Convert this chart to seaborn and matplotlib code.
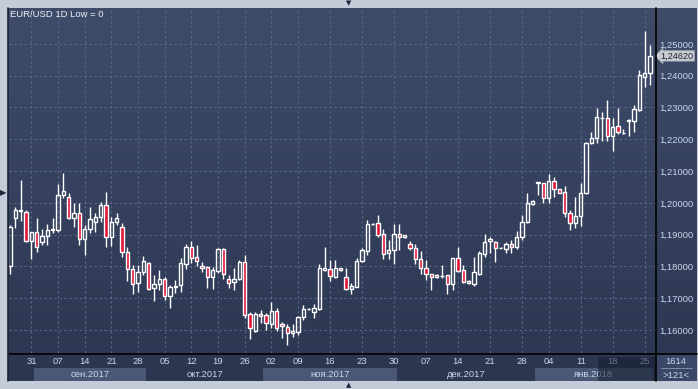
import numpy as np
import matplotlib
matplotlib.use("Agg")
import matplotlib.pyplot as plt
from matplotlib.patches import Rectangle
from matplotlib.lines import Line2D
import seaborn as sns

# daily EUR/USD candles, 25 Aug 2017 .. 26 Jan 2018 (121 bars)
opens = [1.1800, 1.1951, 1.1973, 1.1972, 1.1881, 1.1909, 1.1878, 1.1896, 1.1913, 1.1915,
         1.2025, 1.2017, 1.1951, 1.1967, 1.1885, 1.1917, 1.1941, 1.1954, 1.1993, 1.1892,
         1.1941, 1.1925, 1.1846, 1.1792, 1.1747, 1.1784, 1.1810, 1.1731, 1.1744, 1.1759,
         1.1708, 1.1735, 1.1740, 1.1809, 1.1860, 1.1829, 1.1802, 1.1797, 1.1766, 1.1787,
         1.1855, 1.1759, 1.1752, 1.1759, 1.1813, 1.1649, 1.1597, 1.1650, 1.1647, 1.1618,
         1.1660, 1.1618, 1.1608, 1.1590, 1.1595, 1.1640, 1.1665, 1.1656, 1.1666, 1.1790,
         1.1791, 1.1768, 1.1794, 1.1766, 1.1728, 1.1736, 1.1818, 1.1849, 1.1932, 1.1935,
         1.1902, 1.1841, 1.1852, 1.1901, 1.1892, 1.1870, 1.1857, 1.1822, 1.1794, 1.1775,
         1.1766, 1.1771, 1.1773, 1.1745, 1.1825, 1.1789, 1.1747, 1.1745, 1.1776, 1.1839,
         1.1880, 1.1878, 1.1858, 1.1854, 1.1870, 1.1862, 1.1893, 1.1941, 1.1996, 1.2061,
         1.2061, 1.2014, 1.2070, 1.2042, 1.2033, 1.1969, 1.1936, 1.1957, 1.2030, 1.2187,
         1.2203, 1.2266, 1.2266, 1.2211, 1.2241, 1.2221, 1.2256, 1.2258, 1.2292, 1.2397,
         1.2407]
highs = [1.1930, 1.1988, 1.2072, 1.1977, 1.1909, 1.1951, 1.1917, 1.1932, 1.1951, 1.2059,
         1.2093, 1.2030, 1.1998, 1.1998, 1.1930, 1.1986, 1.1967, 1.2004, 1.2035, 1.1956,
         1.1969, 1.1937, 1.1862, 1.1804, 1.1804, 1.1833, 1.1813, 1.1773, 1.1789, 1.1766,
         1.1742, 1.1757, 1.1827, 1.1870, 1.1880, 1.1867, 1.1815, 1.1802, 1.1799, 1.1859,
         1.1859, 1.1773, 1.1794, 1.1820, 1.1836, 1.1658, 1.1658, 1.1663, 1.1652, 1.1689,
         1.1668, 1.1626, 1.1618, 1.1618, 1.1645, 1.1679, 1.1669, 1.1681, 1.1807, 1.1862,
         1.1820, 1.1820, 1.1796, 1.1796, 1.1747, 1.1825, 1.1857, 1.1946, 1.1936, 1.1961,
         1.1917, 1.1883, 1.1933, 1.1933, 1.1900, 1.1881, 1.1870, 1.1849, 1.1820, 1.1775,
         1.1775, 1.1804, 1.1773, 1.1825, 1.1862, 1.1805, 1.1757, 1.1831, 1.1849, 1.1902,
         1.1893, 1.1881, 1.1860, 1.1878, 1.1883, 1.1912, 1.1962, 1.2030, 1.2010, 1.2067,
         1.2063, 1.2091, 1.2082, 1.2042, 1.2053, 1.1977, 1.2018, 1.2061, 1.2192, 1.2222,
         1.2299, 1.2285, 1.2324, 1.2266, 1.2299, 1.2233, 1.2264, 1.2308, 1.2417, 1.2540,
         1.2496]
lows = [1.1775, 1.1920, 1.1944, 1.1878, 1.1822, 1.1846, 1.1867, 1.1867, 1.1904, 1.1909,
        1.2014, 1.1948, 1.1925, 1.1867, 1.1836, 1.1904, 1.1909, 1.1941, 1.1860, 1.1864,
        1.1930, 1.1831, 1.1754, 1.1713, 1.1721, 1.1773, 1.1726, 1.1691, 1.1726, 1.1694,
        1.1668, 1.1715, 1.1721, 1.1792, 1.1810, 1.1802, 1.1783, 1.1733, 1.1728, 1.1778,
        1.1760, 1.1731, 1.1726, 1.1757, 1.1639, 1.1572, 1.1595, 1.1621, 1.1600, 1.1607,
        1.1597, 1.1576, 1.1553, 1.1579, 1.1584, 1.1631, 1.1663, 1.1637, 1.1663, 1.1786,
        1.1754, 1.1765, 1.1785, 1.1726, 1.1713, 1.1734, 1.1815, 1.1836, 1.1931, 1.1894,
        1.1822, 1.1822, 1.1807, 1.1852, 1.1890, 1.1852, 1.1808, 1.1776, 1.1757, 1.1726,
        1.1765, 1.1763, 1.1713, 1.1726, 1.1781, 1.1747, 1.1744, 1.1738, 1.1773, 1.1831,
        1.1843, 1.1815, 1.1857, 1.1841, 1.1843, 1.1854, 1.1883, 1.1938, 1.1994, 1.2025,
        1.2000, 1.2000, 1.2017, 1.2030, 1.1954, 1.1913, 1.1920, 1.1927, 1.2027, 1.2184,
        1.2187, 1.2193, 1.2194, 1.2163, 1.2215, 1.2215, 1.2210, 1.2224, 1.2289, 1.2365,
        1.2370]
closes = [1.1924, 1.1977, 1.1977, 1.1881, 1.1909, 1.1860, 1.1896, 1.1915, 1.1917, 1.2025,
          1.2037, 1.1951, 1.1967, 1.1885, 1.1917, 1.1948, 1.1954, 1.1993, 1.1892, 1.1941,
          1.1951, 1.1846, 1.1791, 1.1744, 1.1784, 1.1817, 1.1729, 1.1744, 1.1759, 1.1708,
          1.1734, 1.1739, 1.1810, 1.1860, 1.1827, 1.1818, 1.1794, 1.1766, 1.1789, 1.1855,
          1.1776, 1.1747, 1.1759, 1.1815, 1.1647, 1.1607, 1.1649, 1.1644, 1.1621, 1.1660,
          1.1605, 1.1614, 1.1592, 1.1597, 1.1640, 1.1665, 1.1667, 1.1668, 1.1794, 1.1794,
          1.1770, 1.1794, 1.1790, 1.1729, 1.1738, 1.1818, 1.1852, 1.1933, 1.1934, 1.1900,
          1.1838, 1.1852, 1.1901, 1.1892, 1.1899, 1.1857, 1.1822, 1.1794, 1.1776, 1.1766,
          1.1773, 1.1769, 1.1745, 1.1825, 1.1787, 1.1750, 1.1754, 1.1781, 1.1841, 1.1878,
          1.1886, 1.1857, 1.1859, 1.1870, 1.1862, 1.1893, 1.1941, 1.1998, 1.2007, 1.2064,
          1.2014, 1.2070, 1.2042, 1.2030, 1.1967, 1.1936, 1.1957, 1.2030, 1.2187, 1.2203,
          1.2271, 1.2268, 1.2211, 1.2237, 1.2222, 1.2219, 1.2260, 1.2294, 1.2402, 1.2407,
          1.2462]

day_pos = [4, 9, 14, 19, 24, 29, 34, 39, 44, 49, 54, 60, 66, 72, 78, 84, 90, 96, 101, 107, 113, 119]
day_lbl = ["31", "07", "14", "21", "28", "05", "12", "19", "26", "02", "09",
           "16", "23", "30", "07", "14", "21", "28", "04", "11", "18", "25"]
month_lbl = ["сен.2017", "окт.2017", "ноя.2017", "дек.2017", "янв.2018"]
month_start = [5, 26, 48, 73, 99]
month_end = [25, 47, 72, 98, 120]
price_ticks = [1.16, 1.17, 1.18, 1.19, 1.20, 1.21, 1.22, 1.23, 1.24, 1.25]
last_price = 1.2462
info_top, info_bottom = "1614", ">121<"

sns.set_style("dark")
plt.rcParams["font.family"] = ["Liberation Sans", "DejaVu Sans"]

W, H = 698, 389
fig = plt.figure(figsize=(W / 100, H / 100), dpi=100, facecolor="#c3ccd8")

def box(x0, y0, x1, y1):
    return [x0 / W, 1 - y1 / H, (x1 - x0) / W, (y1 - y0) / H]

# gradient panel
bg = fig.add_axes(box(8, 8, 697, 381))
grad = np.linspace(0, 1, 256).reshape(-1, 1)
cmap = matplotlib.colors.LinearSegmentedColormap.from_list("g", ["#3e4c6a", "#2c3651"])
bg.imshow(grad, aspect="auto", cmap=cmap, extent=[0, 1, 0, 1])
bg.set_axis_off()

ax = fig.add_axes(box(9, 8, 655, 353))
ax.set_facecolor("none")
idx = np.arange(len(opens))
o, h, l, c = map(np.array, (opens, highs, lows, closes))
top = np.maximum(o, c)
bot = np.minimum(o, c)
up = c >= o

ax.vlines(idx, top, h, color="white", lw=1, zorder=3)
ax.vlines(idx, l, bot, color="white", lw=1, zorder=3)
hgt = np.maximum(top - bot, 0.00012)
ax.bar(idx[up], hgt[up], bottom=bot[up], width=0.6, facecolor="none",
       edgecolor="white", lw=1, zorder=4)
ax.bar(idx[~up], hgt[~up], bottom=bot[~up], width=0.6, facecolor="#e0153a",
       edgecolor="white", lw=1, zorder=4)

ax.set_xlim(-0.19, 120.94)
ax.set_ylim(1.15277, 1.26127)
ax.set_xticks(day_pos)
ax.set_xticklabels([])
ax.yaxis.tick_right()
ax.set_yticks(price_ticks)
ax.set_yticklabels([f"{v:.5f}".replace(".", ",") for v in price_ticks])
ax.tick_params(axis="y", length=0, pad=3, labelsize=6.8, labelcolor="#c9d6ec")
ax.tick_params(axis="x", length=0)
ax.grid(True, color="#5a6986", lw=0.8, ls=(0, (2, 2.5)))
for s in ax.spines.values():
    s.set_visible(False)

ax.text(0.002, 0.993, "EUR/USD 1D Low = 0", transform=ax.transAxes, ha="left", va="top",
        fontsize=6.8, color="#eef2f8")
ax.annotate(f"{last_price:.5f}".replace(".", ","), xy=(1.0, last_price),
            xycoords=("axes fraction", "data"), xytext=(4, 0), textcoords="offset points",
            ha="left", va="center", fontsize=6.6, color="#1b2233",
            bbox=dict(boxstyle="larrow,pad=0.08", fc="#c9ccd2", ec="#9ea3ab", lw=0.6),
            annotation_clip=False)

# date strip
axd = fig.add_axes(box(9, 353, 655, 381), sharex=ax)
axd.set_facecolor("none")
axd.set_ylim(0, 1)
axd.set_axis_off()
for k, (a, b) in enumerate(zip(month_start, month_end)):
    if k % 2 == 0:
        axd.add_patch(Rectangle((a - 0.5, 0), b - a + 1, 0.47, color="#4a5876", lw=0))
    axd.text((a + b) / 2, 0.24, month_lbl[k], ha="center", va="center",
             fontsize=6.8, color="#c9d6ec")
for p, t in zip(day_pos, day_lbl):
    axd.text(p, 0.7, t, ha="center", va="center", fontsize=6.8, color="#c9d6ec")
axd.add_patch(Rectangle((110.3, 0), 10.7, 0.85, color="#141b2c", alpha=0.55, lw=0, zorder=5))

# bottom right box
fig.patches.append(Rectangle((656 / W, 1 - 381 / H), 41 / W, 27 / H, transform=fig.transFigure,
                             color="#3a4766", lw=0))
fig.text(676 / W, 1 - 362 / H, info_top, ha="center", va="center", fontsize=6.8, color="#c9d6ec")
fig.text(676 / W, 1 - 375 / H, info_bottom, ha="center", va="center", fontsize=6.8, color="#c9d6ec")
fig.add_artist(Line2D([661 / W, 692 / W], [1 - 368 / H] * 2, color="#8a98b2", lw=0.6))

# black separators
fig.add_artist(Line2D([9 / W, 697 / W], [1 - 353.5 / H] * 2, color="black", lw=1.2))
fig.add_artist(Line2D([655.5 / W] * 2, [1 - 8 / H, 1 - 381 / H], color="black", lw=1.2))
fig.add_artist(Line2D([8 / W] * 2, [1 - 8 / H, 1 - 381 / H], color="#1c2434", lw=1.2))

fig.text(349 / W, 1 - 3 / H, "▼", ha="center", va="center", fontsize=5, color="#1e2838",
         family="DejaVu Sans")
fig.text(349 / W, 1 - 385 / H, "▲", ha="center", va="center", fontsize=5, color="#1e2838",
         family="DejaVu Sans")
fig.text(3.5 / W, 1 - 193 / H, "▶", ha="center", va="center", fontsize=6, color="#1e2838",
         family="DejaVu Sans")

fig.savefig("out.png", dpi=100, facecolor=fig.get_facecolor())
